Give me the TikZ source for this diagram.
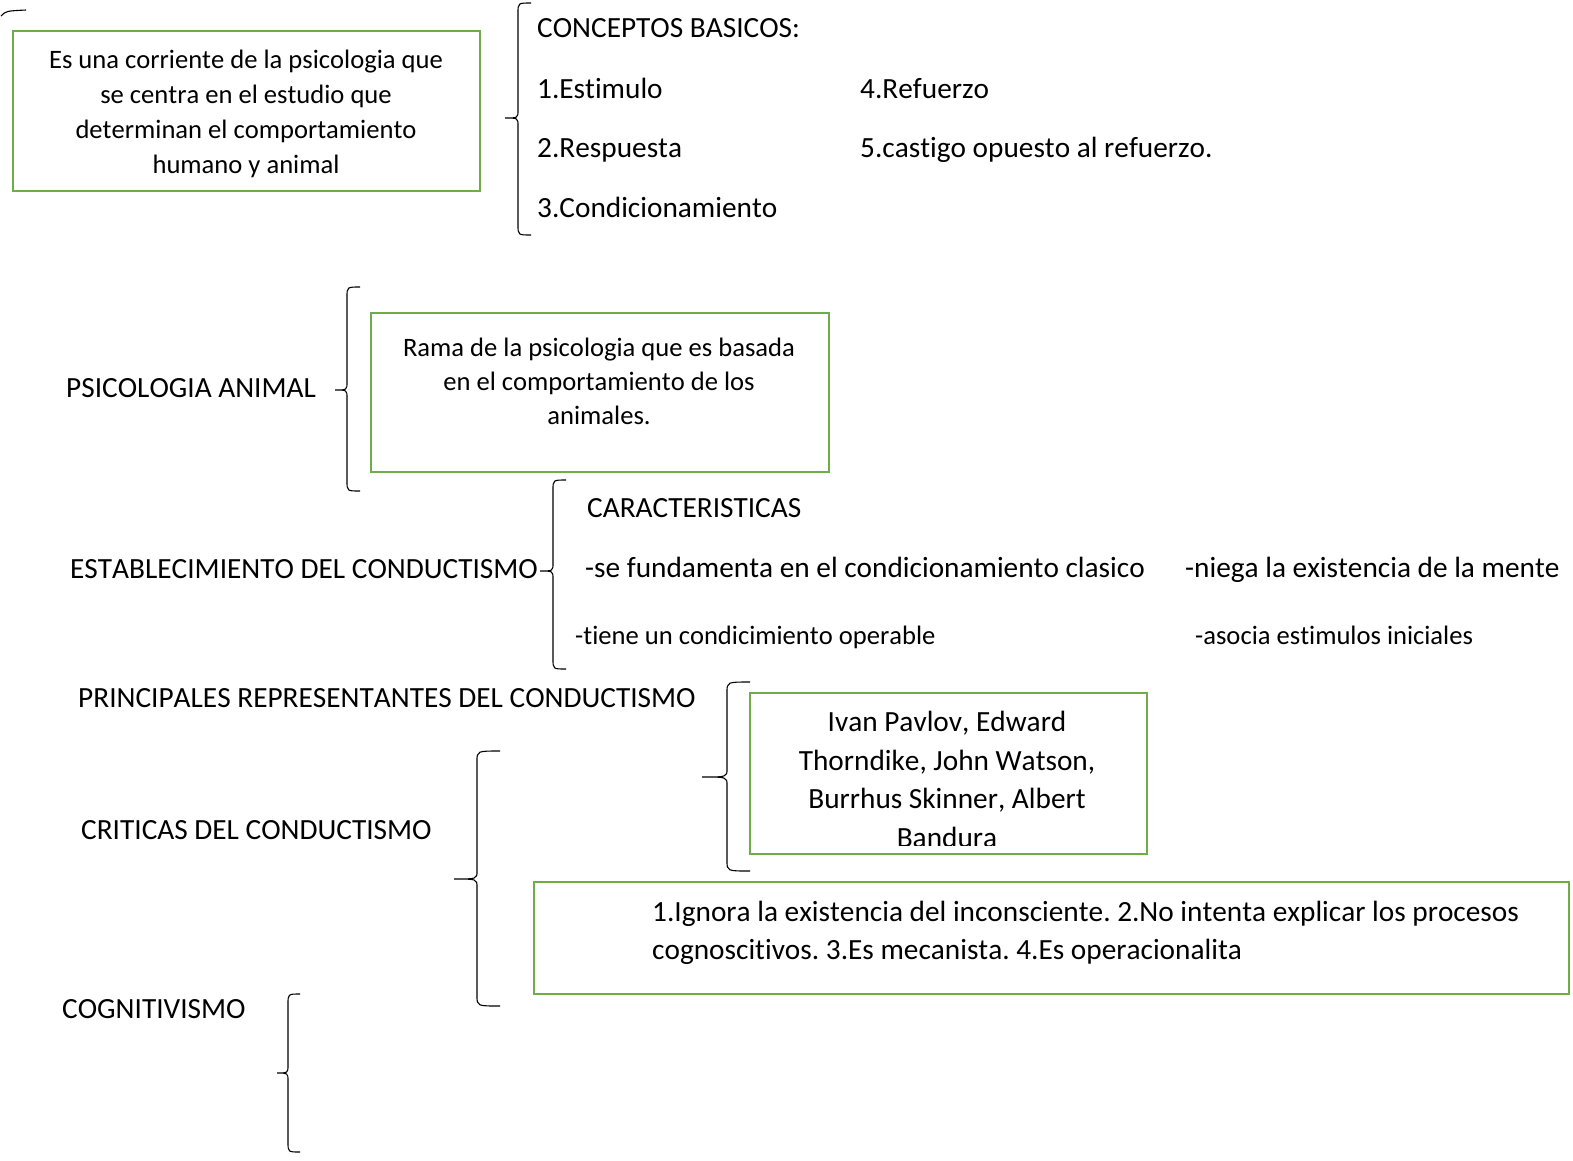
\documentclass[tikz,border=0pt]{standalone}
\usepackage{fontspec}
\setmainfont{Carlito}[Kerning=Off, Ligatures=NoCommon]
\definecolor{boxgreen}{RGB}{112,173,71}
\newcommand{\drawbrace}[6]{%
  \draw[bracestyle] (#3,#4) .. controls (#2,#4) .. (#2,#4+10) -- (#2,#5-8)
    .. controls (#2,#5) .. (#1,#5) .. controls (#2,#5) .. (#2,#5+8)
    -- (#2,#6-10) .. controls (#2,#6) .. (#3,#6);}
\begin{document}
\frenchspacing
\begin{tikzpicture}[x=1pt,y=-1pt,
  bracestyle/.style={draw=black, line width=1.1pt},
  gbox/.style={draw=boxgreen, line width=2.8pt, anchor=north west, inner sep=0pt, outer sep=0pt},
  lbl/.style={anchor=west, inner sep=0pt, font=\fontsize{29.3}{35}\selectfont, text height=18.5pt, text depth=0pt},
  slbl/.style={anchor=west, inner sep=0pt, font=\fontsize{26.6}{32}\selectfont, text height=16.8pt, text depth=0pt},
  btxt/.style={anchor=north, inner sep=0pt, align=center, text depth=0pt}]
\useasboundingbox[fill=white] (0,0) rectangle (1573,1160);

% fragment at top left
\draw[bracestyle] (1,16) .. controls (6,11) .. (26,10);

% box 1
\node[gbox, minimum width=467pt, minimum height=160pt] (b1) at (13,31) {};
\node[btxt, font=\fontsize{26.6}{35}\selectfont, text height=121.8pt] (b1t) at (246,51)
  {Es una corriente de la psicologia que\\se centra en el estudio que\\determinan el comportamiento\\humano y animal};

\drawbrace{505}{518}{531}{3}{118}{235}
\node[lbl] (cb) at (537,28) {CONCEPTOS BASICOS:};
\node[lbl] (c1) at (537,89) {1.Estimulo};
\node[lbl] (c2) at (537,148) {2.Respuesta};
\node[lbl] (c3) at (537,208) {3.Condicionamiento};
\node[lbl] (c4) at (860,89) {4.Refuerzo};
\node[lbl] (c5) at (860,148) {5.castigo opuesto al refuerzo.};

% psicologia animal
\node[lbl] (pa) at (66,388) {PSICOLOGIA ANIMAL};
\drawbrace{335}{347}{360}{287}{390}{491}
\node[gbox, minimum width=458pt, minimum height=159pt] (b2) at (371,313) {};
\node[btxt, font=\fontsize{26.6}{34}\selectfont, text height=84.8pt] (b2t) at (599,339)
  {Rama de la psicologia que es basada\\en el comportamiento de los\\animales.};

% establecimiento
\node[lbl] (ec) at (70,569) {ESTABLECIMIENTO DEL CONDUCTISMO};
\drawbrace{540}{553}{566}{480}{571}{669}
\node[lbl] (car) at (587,508) {CARACTERISTICAS};
\node[lbl] (e1) at (585,568) {-se fundamenta en el condicionamiento clasico};
\node[lbl] (e2) at (1185,568) {-niega la existencia de la mente};
\node[slbl] (e3) at (575,636) {-tiene un condicimiento operable};
\node[slbl] (e4) at (1195,636) {-asocia estimulos iniciales};

% representantes
\node[lbl] (pr) at (78,698) {PRINCIPALES REPRESENTANTES DEL CONDUCTISMO};
\drawbrace{702}{727}{750}{682}{777}{871}
\node[gbox, minimum width=397pt, minimum height=161pt] (b3) at (750,693) {};
\begin{scope}
  \clip (750,693) rectangle (1147,845);
  \node[btxt, font=\fontsize{29.3}{38.5}\selectfont, text height=134pt] (b3t) at (947,713)
    {Ivan Pavlov, Edward\\Thorndike, John Watson,\\Burrhus Skinner, Albert\\Bandura};
\end{scope}

% criticas
\node[lbl] (cr) at (81,830) {CRITICAS DEL CONDUCTISMO};
\drawbrace{454}{477}{500}{751}{879}{1006}
\node[gbox, minimum width=1035pt, minimum height=112pt] (b4) at (534,882) {};
\node[anchor=north west, inner sep=0pt, align=left, font=\fontsize{29.3}{38}\selectfont, text height=56.5pt, text depth=0pt] (b4t) at (652,903)
  {1.Ignora la existencia del inconsciente. 2.No intenta explicar los procesos\\cognoscitivos. 3.Es mecanista. 4.Es operacionalita};

% cognitivismo
\node[lbl] (cg) at (62,1009) {COGNITIVISMO};
\drawbrace{277}{288}{300}{994}{1073}{1152}
\end{tikzpicture}
\end{document}
